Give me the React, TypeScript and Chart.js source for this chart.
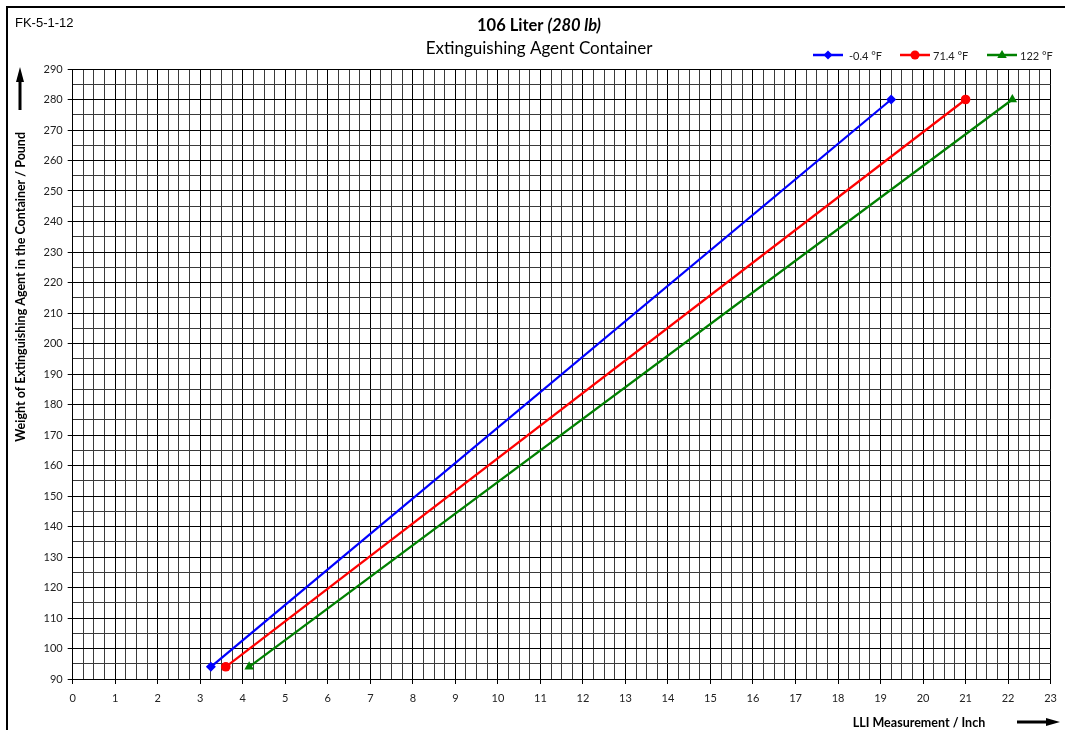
import React, { useEffect, useRef } from 'react';
import { Chart, registerables } from 'chart.js';

Chart.register(...registerables);

// ---- data ----
const xMin = 0;
const xMax = 23;
const xStep = 0.25;
const yMin = 90;
const yMax = 290;
const yStep = 5;

const seriesNames = ['-0.4 °F', '71.4 °F', '122 °F'];
const lowTempX = [3.25, 19.25];
const lowTempY = [94, 280];
const roomTempX = [3.6, 21.0];
const roomTempY = [94, 280];
const highTempX = [4.15, 22.1];
const highTempY = [94, 280];

const docCode = 'FK-5-1-12';
const titleBold = '106 Liter ';
const titleItalic = '(280 lb)';
const subtitle = 'Extinguishing Agent Container';
const yAxisTitle = 'Weight of Extinguishing Agent in the Container / Pound';
const xAxisTitle = 'LLI Measurement / Inch';

const FONT = "Lato, 'Open Sans', sans-serif";

const toPoints = (xs: number[], ys: number[]) => xs.map((x, i) => ({ x, y: ys[i] }));

function drawMarker(ctx: CanvasRenderingContext2D, style: string, x: number, y: number, r: number, color: string) {
  ctx.save();
  ctx.fillStyle = color;
  ctx.beginPath();
  if (style === 'rectRot') {
    ctx.moveTo(x, y - r);
    ctx.lineTo(x + r, y);
    ctx.lineTo(x, y + r);
    ctx.lineTo(x - r, y);
    ctx.closePath();
  } else if (style === 'triangle') {
    ctx.moveTo(x, y - r);
    ctx.lineTo(x + r * 0.95, y + r * 0.6);
    ctx.lineTo(x - r * 0.95, y + r * 0.6);
    ctx.closePath();
  } else {
    ctx.arc(x, y, r, 0, Math.PI * 2);
  }
  ctx.fill();
  ctx.restore();
}

const decorations = {
  id: 'decorations',
  beforeDraw(chart: any) {
    const ctx = chart.ctx as CanvasRenderingContext2D;
    ctx.save();
    ctx.fillStyle = '#ffffff';
    ctx.fillRect(0, 0, chart.width, chart.height);
    ctx.restore();
  },
  afterDraw(chart: any) {
    const ctx = chart.ctx as CanvasRenderingContext2D;
    ctx.save();
    // frame
    ctx.fillStyle = '#000';
    ctx.fillRect(6, 6, chart.width - 6, 2);
    ctx.fillRect(6, 6, 2, chart.height - 6);

    // doc code
    ctx.fillStyle = '#000';
    ctx.font = "13px 'Liberation Sans', Arial, sans-serif";
    ctx.textAlign = 'left';
    ctx.textBaseline = 'alphabetic';
    ctx.fillText(docCode, 15, 27);

    // title
    const cx = 539;
    ctx.fillStyle = '#000';
    ctx.font = `bold 16.5px ${FONT}`;
    const w1 = ctx.measureText(titleBold).width;
    ctx.font = `italic bold 16.5px ${FONT}`;
    const w2 = ctx.measureText(titleItalic).width;
    const start = cx - (w1 + w2) / 2;
    ctx.font = `bold 16.5px ${FONT}`;
    ctx.fillText(titleBold, start, 31);
    ctx.font = `italic bold 16.5px ${FONT}`;
    ctx.fillText(titleItalic, start + w1, 31);
    ctx.font = `17px ${FONT}`;
    ctx.textAlign = 'center';
    ctx.fillText(subtitle, cx, 54);

    // legend
    const ly = 55;
    ctx.font = `11px ${FONT}`;
    ctx.textAlign = 'left';
    ctx.textBaseline = 'middle';
    chart.data.datasets.forEach((ds: any, i: number) => {
      const lx = 813 + i * 87;
      ctx.strokeStyle = ds.borderColor;
      ctx.lineWidth = 2.5;
      ctx.beginPath();
      ctx.moveTo(lx, ly);
      ctx.lineTo(lx + 30, ly);
      ctx.stroke();
      drawMarker(ctx, ds.pointStyle, lx + 15, ly, ds.pointStyle === 'triangle' ? 5 : 4.5, ds.borderColor);
      ctx.fillStyle = '#222';
      ctx.fillText(ds.label, lx + (i === 0 ? 36 : 33), ly + 1);
    });

    // y axis title + arrow
    ctx.fillStyle = '#000';
    ctx.save();
    ctx.translate(24.5, 132);
    ctx.rotate(-Math.PI / 2);
    ctx.font = `bold 12.5px ${FONT}`;
    ctx.textAlign = 'right';
    ctx.textBaseline = 'alphabetic';
    ctx.fillText(yAxisTitle, 0, 0);
    ctx.restore();

    ctx.fillRect(18.5, 80, 3, 30);
    ctx.beginPath();
    ctx.moveTo(20, 67);
    ctx.lineTo(24, 82);
    ctx.lineTo(16, 82);
    ctx.closePath();
    ctx.fill();

    // x axis title + arrow
    ctx.font = `bold 12.5px ${FONT}`;
    ctx.textAlign = 'center';
    ctx.textBaseline = 'middle';
    ctx.fillText(xAxisTitle, 919, 723);
    ctx.fillRect(1017, 720.5, 32, 3);
    ctx.beginPath();
    ctx.moveTo(1060, 722);
    ctx.lineTo(1046, 718);
    ctx.lineTo(1046, 726);
    ctx.closePath();
    ctx.fill();

    ctx.restore();
  },
};

export default function App() {
  const ref = useRef<HTMLCanvasElement | null>(null);

  useEffect(() => {
    if (!ref.current) return;
    const isWhole = (v: number) => Math.abs(v - Math.round(v)) < 1e-9;
    const isTen = (v: number) => Math.abs(v / 10 - Math.round(v / 10)) < 1e-9;

    const chart = new Chart(ref.current, {
      type: 'scatter',
      data: {
        datasets: [
          {
            label: seriesNames[0],
            data: toPoints(lowTempX, lowTempY),
            showLine: true,
            borderColor: '#0000ff',
            backgroundColor: '#0000ff',
            borderWidth: 2.25,
            pointStyle: 'rectRot',
            pointRadius: 5,
            pointBorderWidth: 0,
          },
          {
            label: seriesNames[1],
            data: toPoints(roomTempX, roomTempY),
            showLine: true,
            borderColor: '#ff0000',
            backgroundColor: '#ff0000',
            borderWidth: 2.25,
            pointStyle: 'circle',
            pointRadius: 4.8,
            pointBorderWidth: 0,
          },
          {
            label: seriesNames[2],
            data: toPoints(highTempX, highTempY),
            showLine: true,
            borderColor: '#008000',
            backgroundColor: '#008000',
            borderWidth: 2.25,
            pointStyle: 'triangle',
            pointRadius: 5.5,
            pointBorderWidth: 0,
          },
        ],
      },
      options: {
        responsive: false,
        animation: false,
        devicePixelRatio: 1,
        layout: { padding: { left: 0, right: 8.5, top: 69, bottom: 0 } },
        plugins: {
          legend: { display: false },
          title: { display: false },
          tooltip: { enabled: false },
        },
        scales: {
          x: {
            type: 'linear',
            min: xMin,
            max: xMax,
            afterFit: (s: any) => {
              s.height = 51;
            },
            ticks: {
              stepSize: xStep,
              autoSkip: false,
              maxRotation: 0,
              minRotation: 0,
              padding: 8,
              color: '#222',
              font: { family: FONT, size: 11 },
              callback: (v: any) => (isWhole(Number(v)) ? String(Math.round(Number(v))) : ''),
            },
            grid: {
              color: (c: any) => (isWhole(c.tick.value) ? '#000' : '#3a3a3a'),
              lineWidth: 1,
              tickLength: 5,
              tickColor: (c: any) => (isWhole(c.tick.value) ? '#000' : 'rgba(0,0,0,0)'),
            },
            border: { display: true, color: '#000', width: 1 },
          },
          y: {
            type: 'linear',
            min: yMin,
            max: yMax,
            afterFit: (s: any) => {
              s.width = 72.7;
            },
            ticks: {
              stepSize: yStep,
              autoSkip: false,
              padding: 5,
              color: '#222',
              font: { family: FONT, size: 11 },
              callback: (v: any) => (isTen(Number(v)) ? String(Math.round(Number(v))) : ''),
            },
            grid: {
              color: (c: any) => (isTen(c.tick.value) ? '#000' : '#3a3a3a'),
              lineWidth: 1,
              tickLength: 5,
              tickColor: (c: any) => (isTen(c.tick.value) ? '#000' : 'rgba(0,0,0,0)'),
            },
            border: { display: true, color: '#000', width: 1 },
          },
        },
      },
      plugins: [decorations],
    });
    return () => chart.destroy();
  }, []);

  return (
    <div style={{ position: 'absolute', left: 0, top: 0, width: 1065, height: 730, background: '#fff' }}>
      <canvas ref={ref} width={1065} height={730} style={{ display: 'block' }} />
    </div>
  );
}
